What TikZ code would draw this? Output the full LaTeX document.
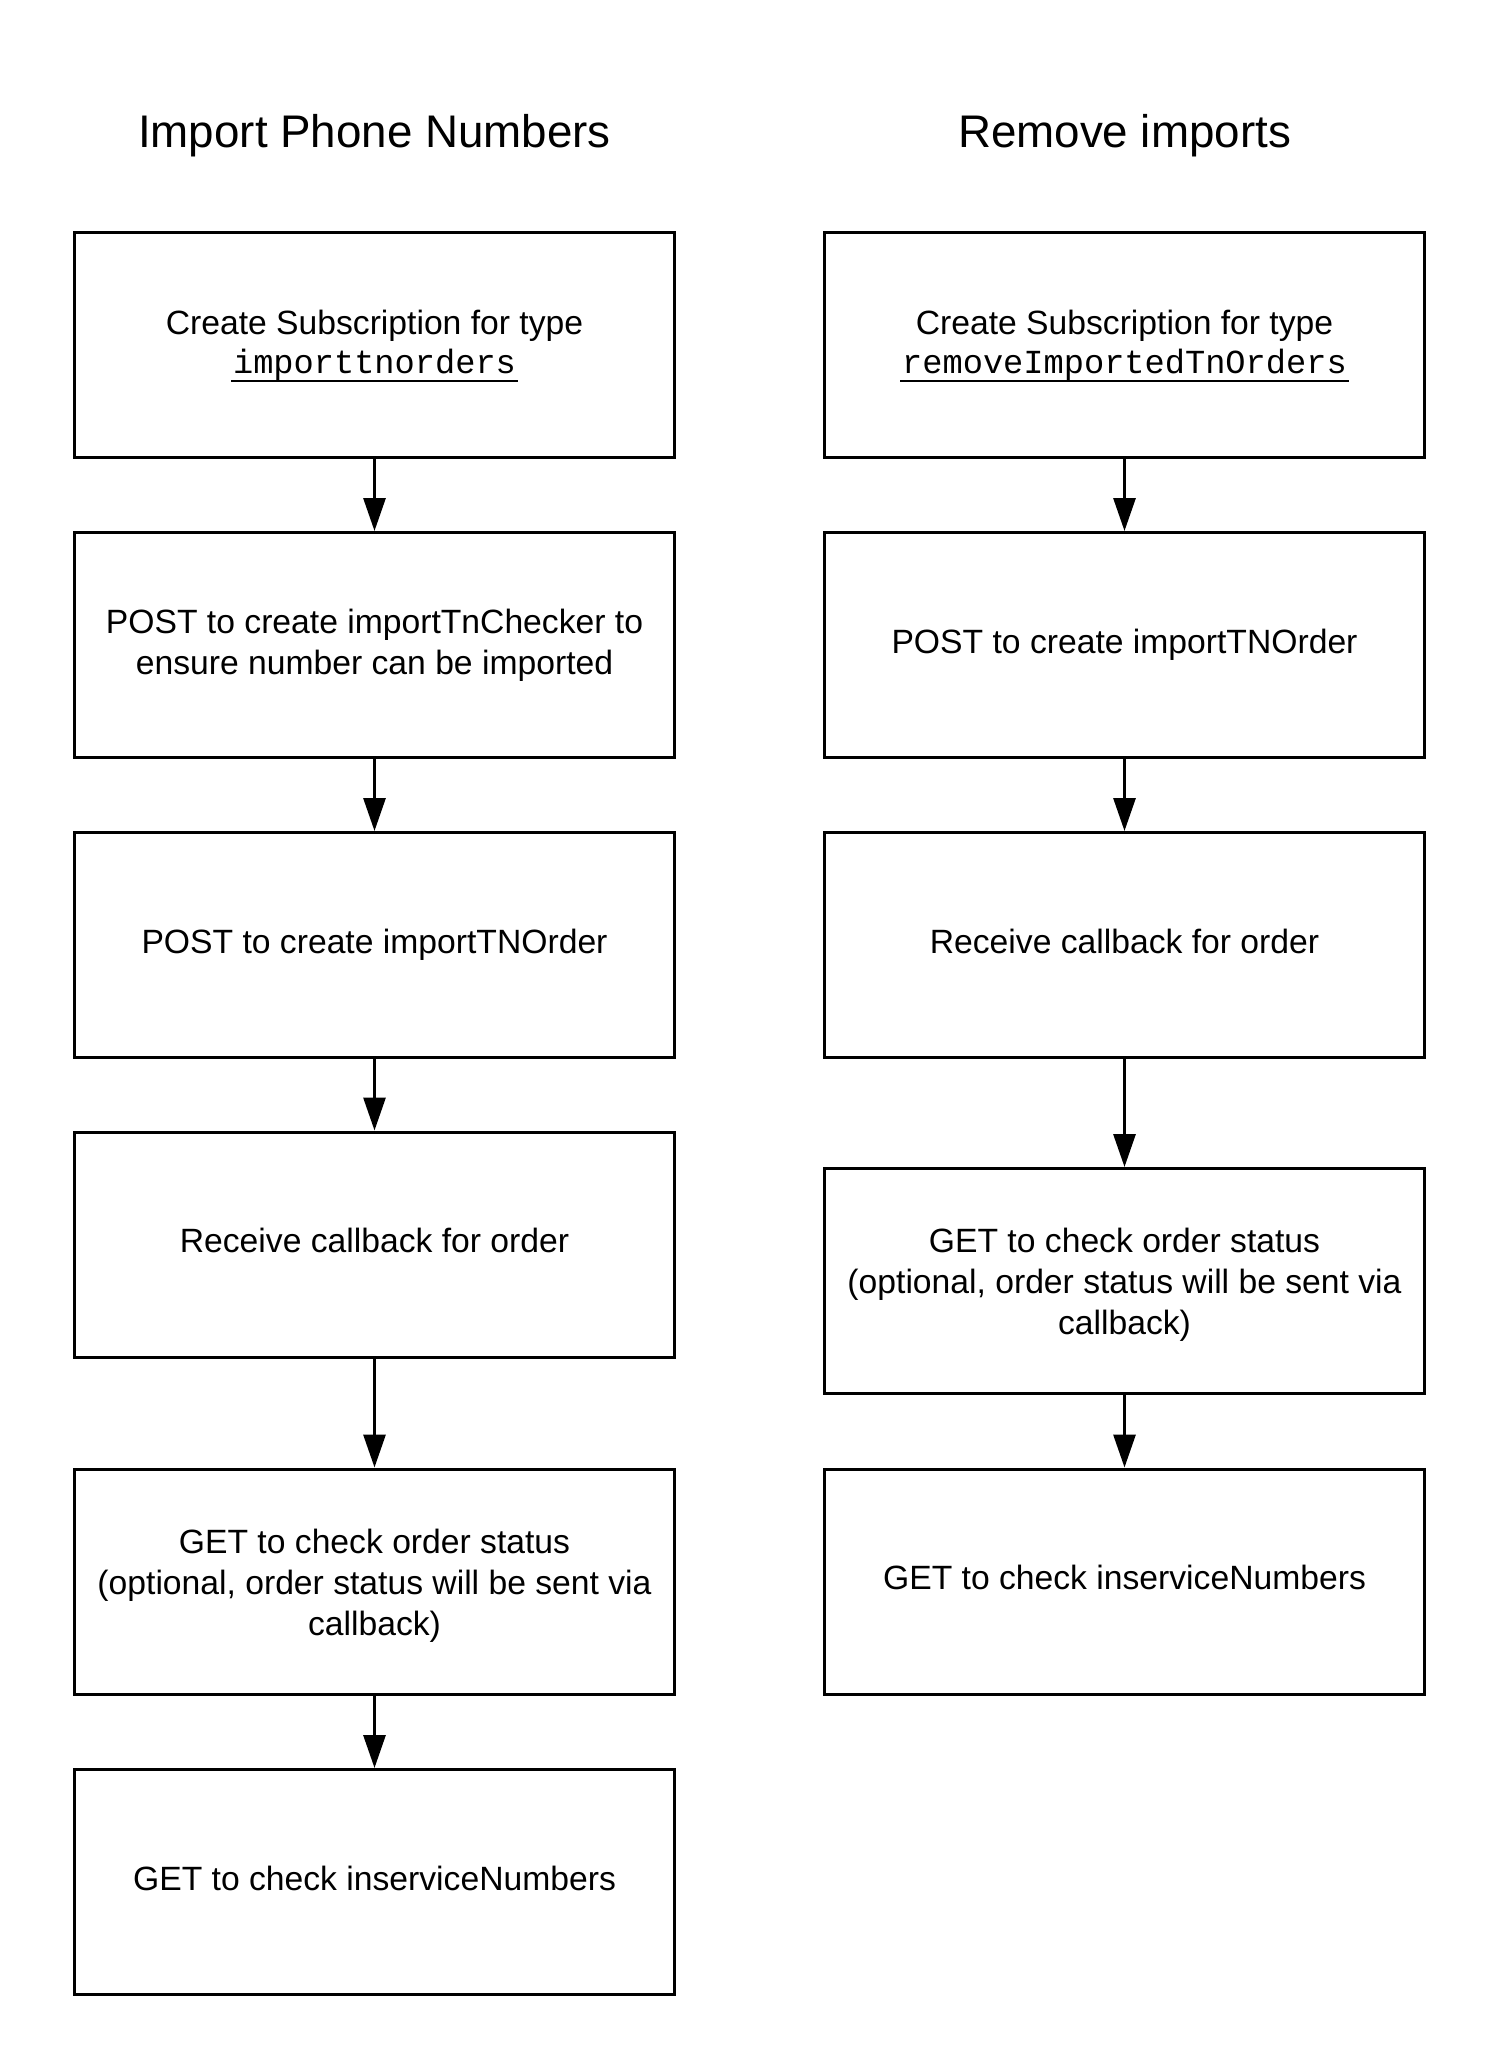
\documentclass[tikz,border=0pt]{standalone}
\usepackage{fontspec}
\setmainfont{Liberation Sans}
\newfontfamily\monof{Liberation Mono}
\usetikzlibrary{arrows.meta}
\newcommand\ulmono[1]{\setbox0\hbox{\monof #1}\rlap{\hspace{-2bp}\rule[-8bp]{\dimexpr\wd0+4bp\relax}{1.3bp}}\box0}
\newcommand\padtop[1]{\rule{0pt}{\dimexpr28.7bp+#1\relax}}
\begin{document}
\begin{tikzpicture}[x=1bp,y=-1bp,
  box/.style={draw=black,line width=3bp,minimum width=600bp,minimum height=225bp,align=center,inner sep=0pt,font=\fontsize{33.8}{41}\selectfont},
  title/.style={font=\fontsize{45.9}{54}\selectfont,anchor=base},
  conn/.style={line width=3bp,-{Triangle[length=33bp,width=22bp]}}]
\useasboundingbox[fill=white] (0,0) rectangle (1500,2070);
\node[title] (tl) at (374.5,147) {Import Phone Numbers};
\node[title] (tr) at (1124.5,147) {Remove imports};
% left column
\node[box] (l1) at (374.5,345) {\padtop{2bp}Create Subscription for type\\[-2bp] {\fontsize{33.8}{41}\selectfont\ulmono{importtnorders}}\strut};
\node[box] (l2) at (374.5,645) {\padtop{2bp}POST to create importTnChecker to\\ ensure number can be imported\strut};
\node[box] (l3) at (374.5,945) {\strut POST to create importTNOrder};
\node[box] (l4) at (374.5,1244.5) {\strut Receive callback for order};
\node[box] (l5) at (374.5,1581.5) {\padtop{9bp}GET to check order status\\ (optional, order status will be sent via\\ callback)\strut};
\node[box] (l6) at (374.5,1882) {\strut GET to check inserviceNumbers};
% right column
\node[box] (r1) at (1124.5,345) {\padtop{2bp}Create Subscription for type\\[-2bp] {\fontsize{33.8}{41}\selectfont\ulmono{removeImportedTnOrders}}\strut};
\node[box] (r2) at (1124.5,645) {\strut POST to create importTNOrder};
\node[box] (r3) at (1124.5,945) {\strut Receive callback for order};
\node[box] (r4) at (1124.5,1281) {\padtop{9bp}GET to check order status\\ (optional, order status will be sent via\\ callback)\strut};
\node[box] (r5) at (1124.5,1581.5) {\strut GET to check inserviceNumbers};
\draw[conn] (l1) -- (l2);
\draw[conn] (l2) -- (l3);
\draw[conn] (l3) -- (l4);
\draw[conn] (l4) -- (l5);
\draw[conn] (l5) -- (l6);
\draw[conn] (r1) -- (r2);
\draw[conn] (r2) -- (r3);
\draw[conn] (r3) -- (r4);
\draw[conn] (r4) -- (r5);
\end{tikzpicture}
\end{document}
